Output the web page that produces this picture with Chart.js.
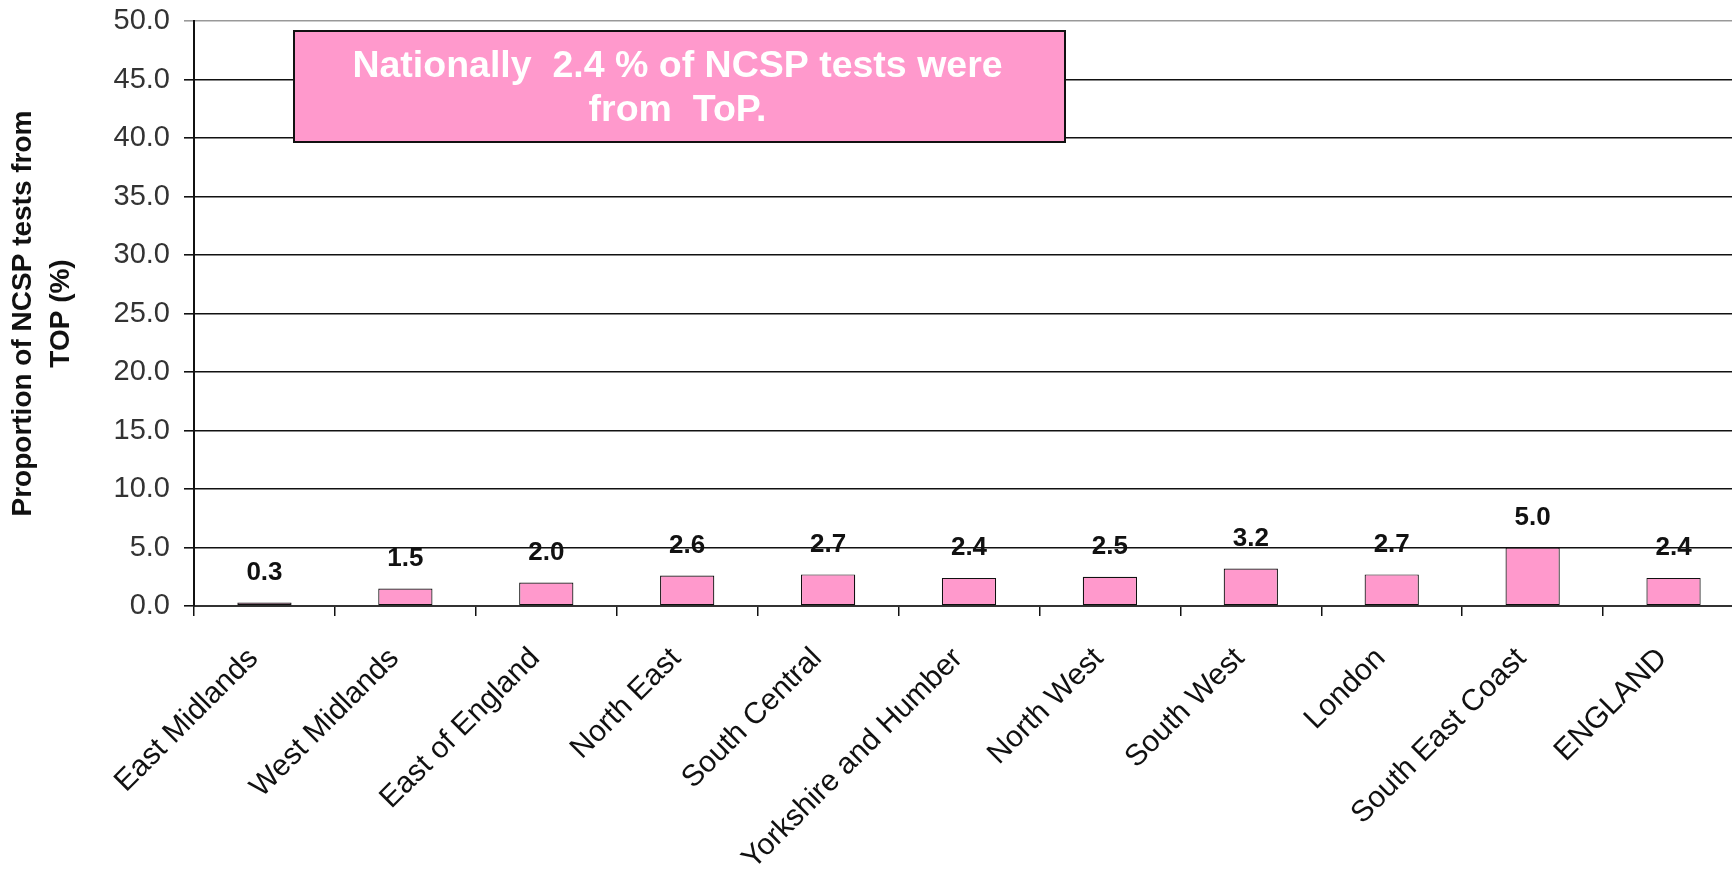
<!DOCTYPE html>
<html>
<head>
<meta charset="utf-8">
<script src="https://cdn.jsdelivr.net/npm/chart.js@4.4.1/dist/chart.umd.min.js"></script>
<style>
  html, body { margin: 0; padding: 0; background: #fff; overflow: hidden; }
  #wrap { width: 1732px; height: 875px; overflow: hidden; position: relative; }
  #box { width: 1760px; height: 875px; position: absolute; left: 0; top: 0; }
</style>
</head>
<body>
<div id="wrap"><div id="box"><canvas id="c"></canvas></div></div>
<script>
const categories = ["East Midlands", "West Midlands", "East of England", "North East", "South Central",
  "Yorkshire and Humber", "North West", "South West", "London", "South East Coast", "ENGLAND"];
const values = [0.3, 1.5, 2.0, 2.6, 2.7, 2.4, 2.5, 3.2, 2.7, 5.0, 2.4];
const yTicks = { min: 0, max: 50, step: 5 };
const axisTitle = ["Proportion of NCSP tests from", "TOP (%)"];
const noteLines = ["Nationally  2.4 % of NCSP tests were", "from  ToP."];

const FONT = "'Liberation Sans', Arial, sans-serif";

const valueLabels = {
  id: 'valueLabels',
  afterDatasetsDraw(chart) {
    const ctx = chart.ctx;
    const meta = chart.getDatasetMeta(0);
    ctx.save();
    ctx.font = "bold 26px " + FONT;
    ctx.fillStyle = "#111";
    ctx.textAlign = "center";
    ctx.textBaseline = "middle";
    meta.data.forEach((bar, i) => {
      ctx.fillText(values[i].toFixed(1), bar.x, bar.y - 30);
    });
    ctx.restore();
  }
};

const noteBox = {
  id: 'noteBox',
  afterDraw(chart) {
    const ctx = chart.ctx;
    const x = 294, y = 31, w = 771, h = 111;
    ctx.save();
    ctx.fillStyle = "#FF99CC";
    ctx.fillRect(x, y, w, h);
    ctx.lineWidth = 2;
    ctx.strokeStyle = "#111";
    ctx.strokeRect(x, y, w, h);
    ctx.fillStyle = "#fff";
    ctx.font = "bold 37.5px " + FONT;
    ctx.textAlign = "center";
    ctx.textBaseline = "middle";
    ctx.fillText(noteLines[0], x + w / 2 - 2, 67);
    ctx.fillText(noteLines[1], x + w / 2 - 2, 111);
    ctx.restore();
  }
};

new Chart(document.getElementById('c'), {
  type: 'bar',
  data: {
    labels: categories,
    datasets: [{
      data: values,
      backgroundColor: "#FF99CC",
      borderColor: "#111",
      borderWidth: 1.2,
      borderSkipped: false,
      categoryPercentage: 1.0,
      barPercentage: 0.385
    }]
  },
  options: {
    responsive: true,
    maintainAspectRatio: false,
    animation: false,
    layout: { padding: { left: 0, right: 16, top: 21, bottom: 0 } },
    plugins: { legend: { display: false }, tooltip: { enabled: false } },
    scales: {
      x: {
        afterFit(scale) { scale.height = 269; },
        border: { display: true, color: "#333", width: 2 },
        grid: { display: true, drawOnChartArea: false, drawTicks: true, tickLength: 10, color: "#111", lineWidth: 1.5 },
        ticks: {
          autoSkip: false, maxRotation: 45, minRotation: 45, padding: 25, labelOffset: -11,
          color: "#111", font: { family: FONT, size: 30 }
        }
      },
      y: {
        min: yTicks.min, max: yTicks.max,
        afterFit(scale) { scale.width = 194; scale.paddingTop = 0; scale.paddingBottom = 0; },
        border: { display: true, color: "#111", width: 2 },
        grid: {
          color: (c) => (c.tick && c.tick.value === yTicks.max) ? "#999" : "#111",
          lineWidth: 1.6, tickLength: 10, drawTicks: true
        },
        ticks: {
          stepSize: yTicks.step, padding: 14, color: "#333",
          font: { family: FONT, size: 29 },
          callback: (v) => Number(v).toFixed(1)
        },
        title: {
          display: true, text: axisTitle, color: "#111",
          font: { family: FONT, size: 28, weight: "bold", lineHeight: 1.33 },
          padding: { top: 5, bottom: 0 }
        }
      }
    }
  },
  plugins: [valueLabels, noteBox]
});
</script>
</body>
</html>
